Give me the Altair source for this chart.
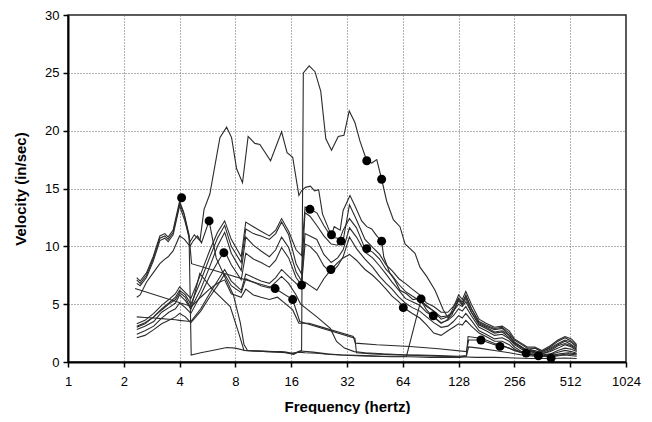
import altair as alt
import pandas as pd

# ---------------- data ----------------
FREQ_GRID = [2.35, 2.6, 2.9, 3.2, 3.5, 3.8, 4.0, 4.3, 4.6, 5.2, 5.8, 6.4, 7.0, 7.6, 8.6, 9.1,
             10.0, 11.0, 12.2, 13.2, 14.2, 15.5, 17.0, 18.2, 19.0, 20.2, 22.0, 24.0, 26.3, 28.5,
             30.5, 33.0, 36.0, 40.0, 44.0, 48.0, 52.0, 56.0, 61.0, 66.0, 72.0, 79.0, 86.0, 94.0,
             103.0, 112.0, 120.0, 128.0, 134.0, 140.0, 150.0, 165.0, 180.0, 200.0, 220.0, 240.0,
             256.0, 280.0, 300.0, 330.0, 360.0, 400.0, 440.0, 480.0, 520.0, 555.0]

M1 = [3.3, 3.6, 4.2, 4.9, 5.4, 5.9, 6.5, 6.0, 5.5, 7.6, 9.6, 11.2, 12.2, 10.6, 9.1, 12.1,
      11.7, 11.3, 10.9, 11.4, 12.4, 11.3, 9.7, 9.2, 13.4, 13.2, 12.9, 11.8, 10.8, 10.7,
      10.5, 13.6, 12.3, 10.6, 9.9, 9.3, 8.4, 7.9, 7.2, 6.8, 6.3, 5.8, 5.1, 4.8,
      4.3, 4.3, 4.8, 5.5, 5.2, 5.7, 4.6, 3.5, 3.2, 2.9, 3.0, 2.5,
      1.9, 1.5, 1.2, 1.2, 0.9, 1.3, 1.8, 2.1, 1.8, 1.4]
M2 = [3.1, 3.4, 3.9, 4.6, 5.1, 5.6, 6.2, 5.8, 5.0, 7.0, 9.0, 10.7, 11.8, 10.0, 8.6, 11.5,
      11.1, 10.9, 10.6, 11.1, 12.1, 11.0, 8.5, 7.6, 12.9, 12.6, 11.8, 10.9, 10.2, 10.1,
      11.4, 12.4, 11.6, 9.8, 9.5, 8.9, 8.0, 7.5, 6.7, 6.1, 5.7, 5.3, 4.8, 4.4,
      3.9, 4.0, 4.4, 5.0, 4.8, 5.2, 4.3, 3.3, 3.0, 2.6, 2.7, 2.3,
      1.7, 1.3, 1.0, 1.0, 0.8, 1.1, 1.5, 1.8, 1.5, 1.2]
M3 = [2.8, 3.1, 3.5, 4.3, 4.7, 5.1, 5.8, 5.3, 4.6, 6.3, 8.2, 10.0, 11.2, 9.4, 7.9, 10.8,
      10.1, 9.6, 9.1, 9.7, 10.8, 9.9, 7.8, 7.0, 11.1, 10.9, 10.6, 9.3, 8.6, 9.0,
      9.7, 11.6, 10.8, 9.5, 9.0, 8.3, 7.6, 6.9, 6.2, 5.5, 5.2, 4.9, 4.3, 3.9,
      3.4, 3.6, 4.0, 4.6, 4.4, 4.8, 4.0, 3.0, 2.7, 2.3, 2.4, 2.0,
      1.5, 1.1, 0.9, 0.8, 0.7, 0.9, 1.2, 1.5, 1.3, 1.0]
M4 = [2.4, 2.7, 3.1, 3.8, 4.3, 4.6, 5.1, 4.7, 4.2, 5.8, 7.4, 8.6, 9.6, 8.4, 7.1, 9.4,
      8.9, 8.6, 8.2, 8.8, 9.9, 9.0, 7.3, 6.65, 10.2, 10.0, 9.4, 8.3, 7.7, 8.3,
      9.1, 10.8, 9.8, 8.9, 8.2, 7.4, 6.8, 6.3, 5.6, 5.1, 4.7, 4.4, 3.9, 3.4,
      3.0, 3.1, 3.5, 4.0, 3.8, 4.2, 3.6, 2.7, 2.4, 2.0, 2.1, 1.8,
      1.3, 0.9, 0.7, 0.7, 0.6, 0.7, 1.0, 1.2, 1.1, 0.9]
M5 = [3.9, 3.85, 3.8, 3.75, 3.7, 3.65, 3.6, 3.55, 3.5, 4.6, 5.9, 7.0, 8.0, 7.0, 6.2, 7.6,
      7.3, 7.0, 6.8, 7.3, 8.0, 7.4, 6.8, 6.3, 6.9, 6.6, 6.2, 7.2, 8.0, 8.6,
      9.0, 9.3, 8.8, 8.0, 7.5, 6.9, 6.3, 5.7, 5.2, 4.6, 4.2, 3.8, 3.2, 2.5,
      2.3, 2.7, 3.0, 3.3, 3.2, 3.6, 3.1, 2.5, 2.2, 1.8, 1.8, 1.5,
      1.1, 0.85, 0.65, 0.6, 0.55, 0.65, 0.85, 1.0, 0.9, 0.75]

LINE_T = [(2.35, 7.3), (2.45, 7.0), (2.65, 7.7), (2.88, 9.1), (3.13, 10.9), (3.33, 11.1),
          (3.47, 10.8), (3.69, 11.4), (4.0, 13.9), (4.2, 13.0), (4.55, 10.4), (4.8, 11.0),
          (5.15, 10.5), (5.42, 13.2), (5.82, 14.5), (6.6, 19.4), (7.17, 20.3), (7.63, 19.4),
          (8.12, 16.7), (8.74, 15.5), (9.37, 19.5), (10.19, 18.9), (10.84, 18.8), (12.38, 17.4),
          (14.2, 19.9), (15.2, 18.1), (16.3, 17.7), (17.6, 14.4), (18.2, 14.8), (19.1, 15.1),
          (20.3, 15.2), (21.4, 14.8), (22.5, 14.9), (23.6, 12.8), (26.4, 10.9), (27.3, 11.7),
          (29.4, 11.4), (30.5, 13.1), (33.2, 14.4), (35.3, 13.5), (38.4, 12.2), (40.9, 11.7),
          (43.5, 11.5), (46.3, 10.9), (49.2, 10.45), (50.5, 9.1), (54.6, 7.65), (57.8, 7.1),
          (61.8, 6.2), (67.0, 5.9), (72.6, 5.4), (79.0, 5.5), (86.0, 4.5), (93.5, 3.9),
          (103.0, 3.35), (110.0, 3.6), (118.0, 4.1), (128.0, 5.5), (134.0, 5.0), (140.0, 5.8),
          (150.0, 4.6), (165.0, 3.4), (180.0, 3.1), (200.0, 2.8), (220.0, 2.9), (240.0, 2.3),
          (256.0, 1.7), (280.0, 1.3), (300.0, 1.0), (330.0, 1.2), (360.0, 0.9), (400.0, 1.2),
          (440.0, 1.6), (480.0, 1.9), (520.0, 1.7), (555.0, 1.3)]

LINE_S = [(2.35, 6.8), (2.45, 6.6), (2.65, 7.3), (2.88, 8.7), (3.13, 10.5), (3.33, 10.7),
          (3.47, 10.4), (3.69, 11.0), (4.0, 13.5), (4.25, 12.3), (4.5, 10.8), (4.62, 0.6),
          (5.2, 0.8), (6.0, 1.0), (7.2, 1.25), (8.0, 1.2), (9.0, 1.0), (10.0, 0.95),
          (12.0, 0.9), (13.5, 0.85), (15.0, 0.8), (16.5, 0.65), (17.5, 0.9), (18.2, 1.0),
          (18.6, 25.0), (20.0, 25.6), (21.5, 25.1), (23.1, 23.4), (24.6, 19.3), (26.4, 18.3),
          (28.7, 19.5), (30.8, 19.6), (32.9, 21.7), (35.3, 20.7), (37.6, 19.1), (40.9, 17.4),
          (43.5, 17.2), (46.3, 17.5), (49.2, 15.8), (52.4, 13.9), (56.9, 12.3), (61.8, 11.7),
          (65.8, 10.2), (74.5, 9.4), (79.2, 8.2), (86.1, 7.4), (95.5, 6.2), (105.9, 4.5),
          (112.7, 3.8), (120.0, 4.7), (128.0, 5.8), (134.0, 5.4), (140.0, 6.1), (150.0, 5.0),
          (165.0, 3.7), (180.0, 3.35), (200.0, 3.0), (220.0, 3.1), (240.0, 2.7), (256.0, 2.0),
          (280.0, 1.6), (300.0, 1.3), (330.0, 1.3), (360.0, 1.0), (400.0, 1.4), (440.0, 1.9),
          (480.0, 2.2), (520.0, 2.0), (555.0, 1.5)]

LINE_C = [(2.35, 5.6), (2.45, 5.8), (2.65, 6.9), (2.88, 7.7), (3.13, 8.5), (3.33, 8.9),
          (3.47, 9.1), (3.69, 9.6), (4.0, 10.9), (4.25, 10.6), (4.55, 10.0), (4.75, 10.5),
          (5.0, 10.9), (5.25, 10.3), (5.77, 12.2), (6.3, 9.0), (7.0, 7.4), (7.8, 5.8),
          (8.5, 3.4), (8.9, 1.5), (9.3, 1.0), (11.0, 0.95), (13.0, 0.9), (15.0, 0.85),
          (16.5, 0.7), (18.0, 0.95), (21.0, 0.85), (25.0, 0.7), (30.0, 0.6), (40.0, 0.55),
          (50.0, 0.5), (60.0, 0.5), (67.0, 0.5), (80.0, 5.3), (86.0, 4.9), (94.0, 4.4),
          (103.0, 3.7), (112.0, 3.9), (120.0, 4.4), (128.0, 5.3), (134.0, 4.9), (140.0, 5.5),
          (150.0, 4.3), (165.0, 3.2), (180.0, 2.9), (200.0, 2.5), (220.0, 2.6), (240.0, 2.1),
          (256.0, 1.6), (280.0, 1.2), (300.0, 0.9), (330.0, 0.9), (360.0, 0.7), (400.0, 1.0),
          (440.0, 1.4), (480.0, 1.6), (520.0, 1.4), (555.0, 1.1)]

LINE_B = [(2.35, 7.1), (2.45, 6.8), (2.65, 7.5), (2.88, 8.9), (3.13, 10.7), (3.33, 10.9),
          (3.47, 10.6), (3.69, 11.2), (4.0, 13.7), (4.25, 12.7), (4.5, 11.0), (4.64, 8.5),
          (13.1, 6.35), (16.3, 5.4), (17.8, 3.5), (35.3, 2.06), (36.0, 0.8), (44.0, 0.7),
          (52.0, 0.65), (64.0, 0.6), (80.0, 0.55), (100.0, 0.5), (128.0, 0.45), (160.0, 0.4),
          (200.0, 0.4), (256.0, 0.35), (320.0, 0.3), (400.0, 0.3), (480.0, 0.35), (555.0, 0.3)]

LINE_E = [(2.3, 6.35), (4.64, 4.8), (5.2, 5.6), (5.8, 6.3), (6.4, 6.8), (7.0, 7.1), (7.6, 5.9),
          (8.6, 5.6), (9.1, 6.3), (10.0, 5.8), (11.0, 5.6), (12.2, 5.4), (13.5, 5.6), (14.5, 5.2),
          (16.3, 4.5), (17.6, 3.35), (20.0, 3.35), (22.9, 3.06), (34.6, 2.2), (35.5, 1.63),
          (46.3, 1.49), (70.0, 1.34), (100.0, 1.15), (141.0, 0.9), (145.0, 1.9), (169.0, 1.9),
          (200.0, 1.5), (230.0, 1.3), (256.0, 1.0), (290.0, 0.75), (320.0, 0.6), (360.0, 0.55),
          (400.0, 0.45), (450.0, 0.6), (500.0, 0.7), (555.0, 0.6)]

LINE_D = [(2.35, 3.0), (2.6, 3.3), (2.9, 3.9), (3.2, 4.5), (3.5, 5.0), (3.8, 5.4), (4.0, 6.0),
          (4.3, 5.6), (4.6, 4.6), (5.14, 7.65), (6.0, 6.3), (7.5, 4.8), (8.3, 2.6), (8.9, 1.0),
          (10.0, 0.95), (12.0, 0.9), (14.0, 0.9), (16.0, 0.75), (17.5, 0.85), (19.0, 0.8),
          (22.0, 0.75), (26.0, 0.65), (30.0, 0.6), (36.0, 0.55), (44.0, 0.5), (56.0, 0.45),
          (70.0, 0.45), (90.0, 0.4), (110.0, 0.4), (130.0, 0.4), (141.0, 0.5), (145.0, 1.3),
          (165.0, 1.2), (200.0, 1.0), (240.0, 0.8), (280.0, 0.6), (330.0, 0.5), (400.0, 0.45),
          (480.0, 0.6), (555.0, 0.5)]

LINE_F = [(2.35, 2.1), (2.6, 2.3), (2.9, 2.8), (3.2, 3.3), (3.5, 3.6), (3.8, 3.9), (4.0, 4.2),
          (4.3, 3.9), (4.6, 3.4), (5.2, 4.4), (5.8, 5.6), (6.4, 6.6), (7.0, 7.6), (7.6, 6.6),
          (8.6, 6.0), (9.1, 7.2), (10.0, 6.9), (11.0, 6.6), (12.2, 6.4), (13.2, 6.9), (14.2, 7.4),
          (15.5, 6.8), (17.0, 5.8), (18.0, 5.0), (22.0, 3.9), (26.0, 2.9), (28.1, 1.77),
          (31.0, 1.2), (35.0, 0.9), (40.0, 0.8), (50.0, 0.7), (60.0, 0.65), (70.0, 0.6),
          (80.0, 0.6), (100.0, 0.55), (128.0, 0.5), (141.0, 0.55), (144.0, 2.2), (160.0, 2.1),
          (180.0, 1.9), (200.0, 1.6), (220.0, 1.4), (240.0, 1.2), (256.0, 1.0), (280.0, 0.8),
          (300.0, 0.65), (340.0, 0.6), (400.0, 0.55), (450.0, 0.7), (500.0, 0.8), (555.0, 0.7)]

DOT_F = [4.1, 5.77, 6.93, 13.1, 16.3, 18.2, 20.2, 26.4, 29.7, 26.2, 40.9, 49.2, 40.9, 49.2,
         64.4, 80.3, 93.5, 169.0, 214.0, 296.0, 345.0, 404.0]
DOT_V = [14.2, 12.2, 9.45, 6.35, 5.4, 6.65, 13.2, 11.0, 10.45, 8.0, 17.4, 15.8, 9.8, 10.45,
         4.7, 5.45, 4.0, 1.9, 1.35, 0.77, 0.54, 0.34]

X_TICKS = [1, 2, 4, 8, 16, 32, 64, 128, 256, 512, 1024]
Y_TICKS = [0, 5, 10, 15, 20, 25, 30]

# ---------------- build tables ----------------
rows = []


def add(name, pts):
    for k, (f, v) in enumerate(pts):
        rows.append({"series": name, "f": f, "v": v, "k": k})


for name, vals in (("M1", M1), ("M2", M2), ("M3", M3), ("M4", M4), ("M5", M5)):
    add(name, list(zip(FREQ_GRID, vals)))
for name, pts in (("T", LINE_T), ("S", LINE_S), ("C", LINE_C), ("B", LINE_B),
                  ("E", LINE_E), ("D", LINE_D), ("F", LINE_F)):
    add(name, pts)

lines_df = pd.DataFrame(rows)
dots_df = pd.DataFrame({"f": DOT_F, "v": DOT_V})

FONT = "Liberation Sans"

xscale = alt.Scale(type="log", base=2, domain=[1, 1024], nice=False)
yscale = alt.Scale(domain=[0, 30], nice=False, zero=True)

x_enc = alt.X(
    "f:Q", scale=xscale,
    axis=alt.Axis(values=X_TICKS, format="d", title="Frequency (hertz)",
                  labelFlush=False, labelOverlap=False, labelPadding=8,
                  titleBaseline="alphabetic", titleY=49),
)
y_enc = alt.Y(
    "v:Q", scale=yscale,
    axis=alt.Axis(values=Y_TICKS, format="d", title="Velocity (in/sec)",
                  labelPadding=4, titleAngle=270, titleBaseline="alphabetic",
                  titleAlign="center", titleX=-43, titleY=173.5),
)

lines = alt.Chart(lines_df).mark_line(color="#2b2b2b", strokeWidth=1.1).encode(
    x=x_enc, y=y_enc, detail="series:N", order="k:Q"
)
points = alt.Chart(dots_df).mark_circle(size=80, color="black", opacity=1).encode(
    x=x_enc, y=y_enc
)

chart = (
    alt.layer(lines, points)
    .properties(
        width=558, height=347,
        padding={"left": 60, "top": 7, "right": 18, "bottom": 52},
        autosize=alt.AutoSizeParams(type="none"),
    )
    .configure_view(stroke="#222222", strokeWidth=1.5)
    .configure_axis(
        grid=True, gridDash=[1, 2], gridColor="#666666", gridWidth=1,
        domainColor="black", domainWidth=2,
        tickColor="black", tickWidth=1.5, tickSize=5,
        labelFont=FONT, labelFontSize=13, labelColor="black",
        titleFont=FONT, titleFontSize=15, titleFontWeight="bold", titleColor="black",
    )
)

chart.save("out.html", embed_options={"renderer": "svg", "actions": False})
